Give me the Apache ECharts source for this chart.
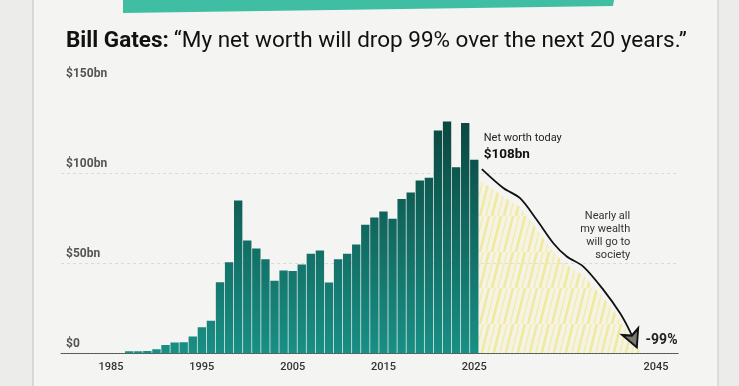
<!DOCTYPE html>
<html><head><meta charset="utf-8">
<script src="https://cdn.jsdelivr.net/npm/echarts@6/dist/echarts.min.js"></script>
<style>html,body{margin:0;padding:0;background:#ececea;}#c{width:739px;height:386px;}</style>
</head><body><div id="c"></div>
<script>
// ---- data ----
const categories = [];
for (let y = 1980; y <= 2047; y++) categories.push(String(y));
const barYears  = [1987,1988,1989,1990,1991,1992,1993,1994,1995,1996,1997,1998,1999,2000,2001,2002,2003,2004,2005,2006,2007,2008,2009,2010,2011,2012,2013,2014,2015,2016,2017,2018,2019,2020,2021,2022,2023,2024,2025];
const barValues = [1.2,1.2,1.3,2.2,4.6,6,6.2,9.3,14.4,18,39.4,50.5,84.8,62.6,58.1,52.2,40.2,45.9,45.7,49.3,55.2,57,39.3,52.2,55.2,60.4,71.3,75.4,78.7,74.6,85.6,89.3,95.9,97.4,123.7,128.7,103.3,127.8,107.4];
const shownYearLabels = ['1985','1995','2005','2015','2025','2045'];
const projYears  = [2025.83,2028.2,2030.04,2031.88,2033.71,2035.19,2037.01,2039.22,2041.06,2042.16,2042.9];
const projValues = [102.2,91.7,86.1,74.1,61.1,53.7,48.1,35.2,22.2,12.0,3.3];
const areaYears  = [2025.5,2026.2,2028.2,2030.04,2031.88,2033.71,2035.19,2037.01,2039.22,2041.06,2042.16,2043.4];
const areaValues = [96,94,87,81,69,56,49,43,31,19,9,0];

// ---- build ----
const barData = categories.map(c => {
  const i = barYears.indexOf(+c);
  return i >= 0 ? barValues[i] : null;
});
const fmtY = v => v === 0 ? '$0' : '$' + v + 'bn';

// yellow crayon-like hatch pattern
const pc = document.createElement('canvas');
pc.width = 24; pc.height = 36;
const g = pc.getContext('2d');
g.fillStyle = 'rgba(248,242,185,0.3)';
g.fillRect(0,0,24,36);
g.lineCap = 'round';
const strokes = [[0,36,9,0,2.2,0.5],[6,36,15,0,1.4,0.35],[12,36,21,0,2.4,0.55],[18,36,27,0,1.3,0.35],[-6,36,3,0,1.4,0.35],[24,36,33,0,2.2,0.5],[-12,36,-3,0,2.4,0.55]];
strokes.forEach(s => {
  g.strokeStyle = 'rgba(236,222,95,' + s[5] + ')';
  g.lineWidth = s[4];
  g.beginPath(); g.moveTo(s[0], s[1]); g.lineTo(s[2], s[3]); g.stroke();
});

const chart = echarts.init(document.getElementById('c'), null, {renderer: 'canvas'});
const option = {
  backgroundColor: '#ececea',
  animation: false,
  title: {
    left: 61, top: 25,
    text: '{b|Bill Gates:} {r|“My net worth will drop 99% over the next 20 years.”}',
    textStyle: {
      rich: {
        b: {fontFamily: 'Roboto', fontWeight: 'bold', fontSize: 22.5, color: '#111'},
        r: {fontFamily: 'Roboto', fontWeight: 'normal', fontSize: 22.5, color: '#111'}
      }
    }
  },
  grid: {left: 61.1, right: 60.4, top: 83, bottom: 32.7},
  xAxis: [{
    type: 'category', data: categories, boundaryGap: true,
    axisLine: {show: true, lineStyle: {color: '#555', width: 1.2, type: [2, 1]}},
    axisTick: {show: false},
    axisLabel: {
      interval: 0, margin: 8,
      formatter: v => shownYearLabels.includes(v) ? v : '',
      fontFamily: 'Roboto', fontSize: 11, fontWeight: 500, color: '#333'
    },
    splitLine: {show: false}
  }, {
    type: 'value', min: 1979.5, max: 2047.5, show: false
  }],
  yAxis: {
    type: 'value', min: 0, max: 150, interval: 50,
    axisLine: {show: false}, axisTick: {show: false},
    axisLabel: {
      inside: true, verticalAlign: 'bottom', align: 'left', margin: 5,
      padding: [0, 0, 3, 0],
      formatter: fmtY,
      fontFamily: 'Roboto', fontSize: 12, fontWeight: 'bold', color: '#555'
    },
    splitLine: {show: true, showMinLine: false, showMaxLine: false,
      lineStyle: {color: 'rgba(0,0,0,0.11)', type: [3, 3], width: 1}}
  },
  series: [{
    type: 'bar', data: barData, barCategoryGap: '8%',
    itemStyle: {
      color: {type: 'linear', x: 0, y: 110, x2: 0, y2: 353, global: true,
        colorStops: [{offset: 0, color: '#0a443c'}, {offset: 1, color: '#198f85'}]}
    }
  }, {
    type: 'line', xAxisIndex: 1,
    data: areaYears.map((y, i) => [y, areaValues[i]]),
    showSymbol: false, smooth: false,
    lineStyle: {width: 0, opacity: 0},
    areaStyle: {color: {image: pc, repeat: 'repeat'}, opacity: 1},
    z: 1
  }, {
    type: 'line', xAxisIndex: 1,
    data: projYears.map((y, i) => [y, projValues[i]]),
    smooth: 0.3, showSymbol: false,
    lineStyle: {color: '#111', width: 1.8},
    z: 5
  }, {
    type: 'scatter', xAxisIndex: 1,
    data: [[projYears[projYears.length - 1], projValues[projValues.length - 1]]],
    symbol: 'arrow', symbolSize: [13, 17], symbolRotate: 203,
    itemStyle: {color: '#7a7a72', borderColor: '#111', borderWidth: 2, opacity: 1},
    z: 6
  }]
};
chart.setOption(option);

// annotations placed via the chart's own scales
function px(yr, val) { return chart.convertToPixel({xAxisIndex: 1, yAxisIndex: 0}, [yr, val]); }
const pNow = px(2025.6, 108);
const pNote = px(2042.5, 71);
const pEnd = px(2043.2, 3.3);
chart.setOption({
  graphic: [
    {type: 'polygon', z: -10, shape: {points: [[33,0],[718,0],[718,386],[33,386]]},
      style: {fill: '#f4f4f2', stroke: null}},
    {type: 'line', z: -9, shape: {x1: 33, y1: 0, x2: 33, y2: 386}, style: {stroke: '#c9c9c7', lineWidth: 1.2}},
    {type: 'line', z: -9, shape: {x1: 718, y1: 0, x2: 718, y2: 386}, style: {stroke: '#cfcfcd', lineWidth: 1.2}},
    {type: 'polygon', z: 10, shape: {points: [[123,0],[614,0],[613,6],[123,13]]},
      style: {fill: '#3fbea3'}},
    {type: 'text', x: pNow[0] + 4, y: pNow[1] - 20, z: 20,
      style: {text: 'Net worth today', fontFamily: 'Roboto', fontSize: 11, fill: '#222', verticalAlign: 'middle'}},
    {type: 'text', x: pNow[0] + 4, y: pNow[1] - 4, z: 20,
      style: {text: '$108bn', fontFamily: 'Roboto', fontSize: 13.5, fontWeight: 'bold', fill: '#111', verticalAlign: 'middle'}},
    {type: 'text', x: pNote[0] - 3, y: pNote[1] - 16, z: 20,
      style: {text: 'Nearly all\nmy wealth\nwill go to\nsociety', fontFamily: 'Roboto', fontSize: 11, lineHeight: 13,
        fill: '#333', align: 'right', verticalAlign: 'top'}},
    {type: 'text', x: pEnd[0] + 6, y: pEnd[1] - 7, z: 20,
      style: {text: '-99%', fontFamily: 'Roboto', fontSize: 14, fontWeight: 'bold', fill: '#222', verticalAlign: 'middle'}}
  ]
});
</script></body></html>
